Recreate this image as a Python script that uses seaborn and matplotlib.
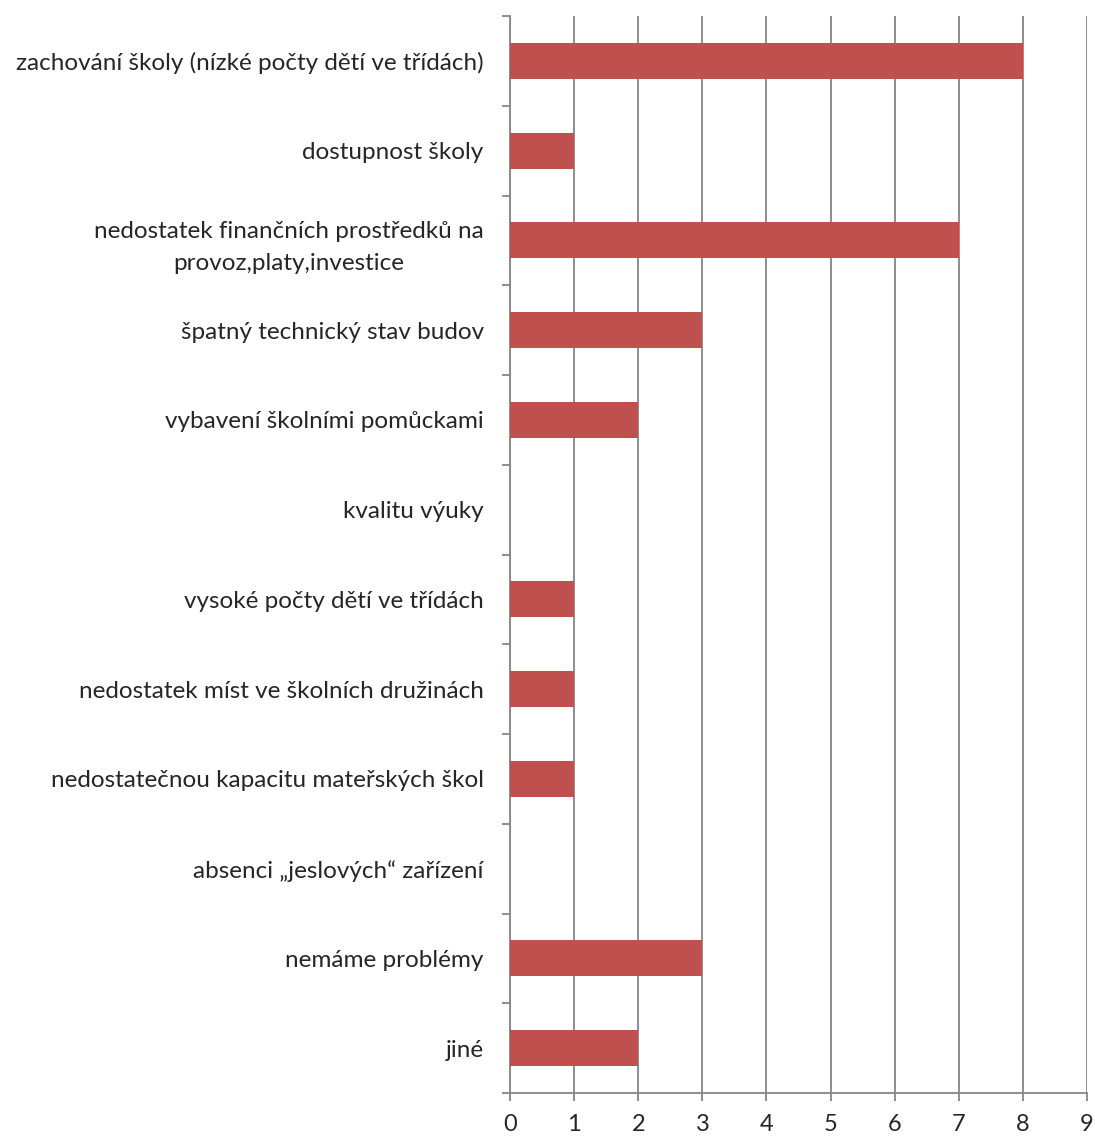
import numpy as np
import pandas as pd
import matplotlib
matplotlib.use("Agg")
import matplotlib.pyplot as plt
import seaborn as sns

categories = [
    "zachování školy (nízké počty dětí ve třídách)",
    "dostupnost školy",
    "nedostatek finančních prostředků na\nprovoz,platy,investice",
    "špatný technický stav budov",
    "vybavení školními pomůckami",
    "kvalitu výuky",
    "vysoké počty dětí ve třídách",
    "nedostatek míst ve školních družinách",
    "nedostatečnou kapacitu mateřských škol",
    "absenci „jeslových“ zařízení",
    "nemáme problémy",
    "jiné",
]
counts = [8, 1, 7, 3, 2, 0, 1, 1, 1, 0, 3, 2]
x_ticks = list(range(0, 10))

sns.set_style("white")
plt.rcParams["font.family"] = ["Lato", "DejaVu Sans"]

df = pd.DataFrame({"kategorie": categories, "pocet": counts})

fig = plt.figure(figsize=(10.95, 11.38), dpi=100)
ax = fig.add_axes([0.4658, 0.0395, 0.9927 - 0.4658, 0.9859 - 0.0395])

sns.barplot(data=df, x="pocet", y="kategorie", color="#C0504D", width=0.4,
            saturation=1, linewidth=0, ax=ax, zorder=3)

grid_c = "#868686"
ax.set_xlim(0, 9)
ax.set_ylim(len(categories) - 0.5, -0.5)
ax.set_xticks(x_ticks)
ax.xaxis.grid(True, color=grid_c, linewidth=1.3, zorder=0)
ax.set_axisbelow(True)

for s in ["top", "right"]:
    ax.spines[s].set_visible(False)
for s in ["left", "bottom"]:
    ax.spines[s].set_color(grid_c)
    ax.spines[s].set_linewidth(1.3)

ax.set_xlabel("")
ax.set_ylabel("")

# category boundary ticks on the left axis
ax.set_yticks(np.arange(-0.5, len(categories), 1), minor=True)
ax.tick_params(axis="y", which="major", left=True, length=0, pad=19, labelsize=17.5)
ax.tick_params(axis="y", which="minor", left=True, length=6, width=1.3,
               color=grid_c, direction="out")
ax.tick_params(axis="x", bottom=True, length=6, width=1.3, color=grid_c,
               pad=9, labelsize=17)
for lbl in ax.get_yticklabels():
    lbl.set_multialignment("center")
    lbl.set_linespacing(1.6)

fig.savefig("out.png", dpi=100)
